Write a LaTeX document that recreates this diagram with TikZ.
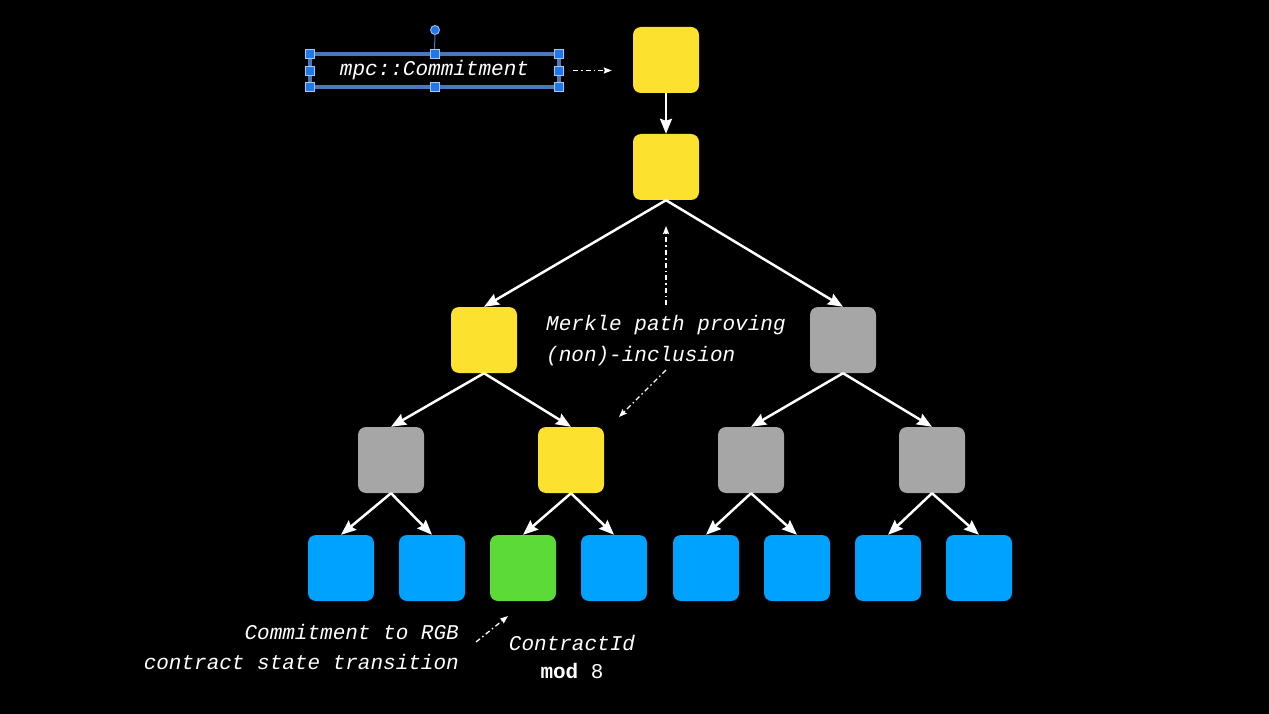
\documentclass[tikz,border=0pt]{standalone}
\usepackage{fontspec}
\setmainfont{Liberation Mono}
\usetikzlibrary{arrows.meta}
\definecolor{hashyellow}{HTML}{FCE22F}
\definecolor{hashgrey}{HTML}{A6A6A6}
\definecolor{hashblue}{HTML}{00A2FF}
\definecolor{hashgreen}{HTML}{5CDB38}
\definecolor{selline}{HTML}{4A78BC}
\definecolor{selhandle}{HTML}{1E78EC}
\tikzstyle{hashbox} = [
    rectangle,
    rounded corners=8pt,
    minimum width=66pt,
    minimum height=66pt,
    inner sep=0pt
]
\tikzstyle{yellowbox} = [hashbox, fill=hashyellow]
\tikzstyle{greybox} = [hashbox, fill=hashgrey]
\tikzstyle{bluebox} = [hashbox, fill=hashblue]
\tikzstyle{greenbox} = [hashbox, fill=hashgreen]
\tikzstyle{note} = [
    text=white,
    inner sep=0pt,
    font=\fontsize{21}{31}\selectfont\itshape
]
\tikzstyle{selbox} = [
    note,
    draw=selline,
    line width=3.5pt,
    outer sep=0pt,
    minimum width=249pt,
    minimum height=33pt
]
\tikzstyle{handle} = [
    rectangle,
    minimum size=9pt,
    inner sep=0pt,
    fill=selhandle,
    draw=white!60!selhandle,
    line width=0.8pt
]
\tikzstyle{arrow} = [white, line width=2.5pt, -{Stealth[length=15pt,width=12pt,inset=2pt]}]
\tikzstyle{hint} = [white, line width=1.3pt, dash pattern=on 5pt off 3pt on 1.5pt off 3pt,
    -{Stealth[length=8pt,width=6pt,inset=1pt]}]

\begin{document}
\begin{tikzpicture}[x=1pt, y=-1pt]

\fill[black] (0,0) rectangle (1269,714);

% hash tree
\node (commit) [yellowbox] at (666,60) {};
\node (root) [yellowbox] at (666,167) {};

\node (mid1) [yellowbox] at (484,340) {};
\node (mid2) [greybox] at (843,340) {};

\node (low1) [greybox] at (391,460) {};
\node (low2) [yellowbox] at (571,460) {};
\node (low3) [greybox] at (751,460) {};
\node (low4) [greybox] at (932,460) {};

\node (leaf1) [bluebox] at (341,568) {};
\node (leaf2) [bluebox] at (432,568) {};
\node (leaf3) [greenbox] at (523,568) {};
\node (leaf4) [bluebox] at (614,568) {};
\node (leaf5) [bluebox] at (706,568) {};
\node (leaf6) [bluebox] at (797,568) {};
\node (leaf7) [bluebox] at (888,568) {};
\node (leaf8) [bluebox] at (979,568) {};

\draw [arrow] (commit.south) -- (root.north);
\draw [arrow] (root.south) -- (mid1.north);
\draw [arrow] (root.south) -- (mid2.north);

\draw [arrow] (mid1.south) -- (low1.north);
\draw [arrow] (mid1.south) -- (low2.north);
\draw [arrow] (mid2.south) -- (low3.north);
\draw [arrow] (mid2.south) -- (low4.north);

\draw [arrow] (low1.south) -- (leaf1.north);
\draw [arrow] (low1.south) -- (leaf2.north);
\draw [arrow] (low2.south) -- (leaf3.north);
\draw [arrow] (low2.south) -- (leaf4.north);
\draw [arrow] (low3.south) -- (leaf5.north);
\draw [arrow] (low3.south) -- (leaf6.north);
\draw [arrow] (low4.south) -- (leaf7.north);
\draw [arrow] (low4.south) -- (leaf8.north);

% selected label
\node (mpc) [selbox] at (434.5,70.5) {mpc::Commitment};
\node (rot) [handle, circle, minimum size=9pt] at (435,30) {};
\draw [selline, line width=1pt] (rot) -- (mpc.north);
\node (h1) [handle] at (mpc.north west) {};
\node (h2) [handle] at (mpc.north) {};
\node (h3) [handle] at (mpc.north east) {};
\node (h4) [handle] at (mpc.west) {};
\node (h5) [handle] at (mpc.east) {};
\node (h6) [handle] at (mpc.south west) {};
\node (h7) [handle] at (mpc.south) {};
\node (h8) [handle] at (mpc.south east) {};

\draw [hint, shorten <=14pt, shorten >=21pt] (mpc.east) -- (mpc.east -| commit.west);

% notes
\node (merkle) [note, anchor=base west, align=left, font=\fontsize{21}{31}\selectfont\itshape]
    at (546,361) {Merkle path proving\\(non)-inclusion};
\node (rgb) [note, anchor=base east, align=right, font=\fontsize{21}{30}\selectfont\itshape]
    at (459,669) {Commitment to RGB\\contract state transition};
\node (cid) [note, anchor=base, align=center, font=\fontsize{21}{28}\selectfont]
    at (572,678) {\textit{ContractId}\\\textbf{mod} 8};

\coordinate (up0) at (666,305);
\coordinate (up1) at (666,226);
\coordinate (dn0) at (666,370);
\coordinate (dn1) at (619,417);
\coordinate (cm0) at (476,642);
\coordinate (cm1) at (508,616);

\draw [hint] (up0) -- (up1);
\draw [hint] (dn0) -- (dn1);
\draw [hint] (cm0) -- (cm1);

\end{tikzpicture}
\end{document}
